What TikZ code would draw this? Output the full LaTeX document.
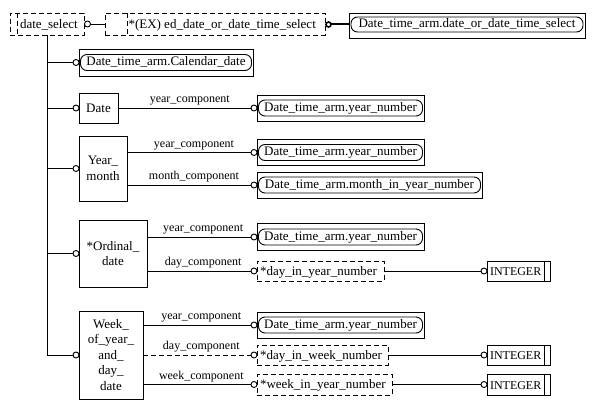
\documentclass[tikz,border=0pt]{standalone}
\usepackage{fontspec}
\setmainfont{Liberation Serif}
\newcommand\bxf{\fontsize{13}{15.5}\selectfont}
\newcommand\lbf{\fontsize{12}{14}\selectfont}
\newcommand\rbox[6]{%
  \node[ebox,minimum width=#4pt,minimum height=#5pt] (#1) at (#2,#3) {};
  \node[rin,minimum width=#4pt-3pt,minimum height=16pt] (#1i) at (#1.center) {#6};}
\begin{document}
\begin{tikzpicture}[x=1pt,y=-1pt,
  every node/.style={inner sep=0pt,outer sep=0pt},
  ln/.style={line width=0.9pt},
  dsh/.style={line width=0.9pt,dash pattern=on 5pt off 3pt},
  ebox/.style={draw,line width=0.9pt,anchor=north west,font=\bxf,align=center},
  sbox/.style={ebox,dash pattern=on 5pt off 3pt},
  rin/.style={draw,line width=0.9pt,rounded corners=6.5pt,font=\bxf,text height=9pt,text depth=2.5pt},
  txt/.style={font=\bxf,anchor=base west},
  ity/.style={font=\lbf,anchor=base west},
  lbl/.style={font=\lbf,anchor=base,yshift=5.5pt},
  circ/.style={draw,circle,fill=white,line width=0.9pt,minimum size=6pt},
]
\useasboundingbox (0,0) rectangle (593,409);

% ---- top row
\node[sbox,minimum width=74pt,minimum height=22pt] (ds) at (10,13) {};
\draw[dsh] ([xshift=7pt]ds.north west) -- ([xshift=7pt]ds.south west);
\node[txt] (dst) at (20,28.3) {date\_select};

\node[sbox,minimum width=220pt,minimum height=22pt] (ex) at (105,13) {};
\draw[dsh] ([xshift=22pt]ex.north west) -- ([xshift=22pt]ex.south west);
\node[txt] (ext) at (128.5,28.3) {*(EX) ed\_date\_or\_date\_time\_select};

\node[circ] (c0) at (87.5,24) {};
\draw[ln] (c0.east) -- (c0.east -| ex.west);

\node[ebox,minimum width=236pt,minimum height=25pt] (dts) at (349,13) {};
\node[rin,minimum width=232pt,minimum height=15pt] (dtsi) at (467,24.5) {Date\_time\_arm.date\_or\_date\_time\_select};
\node[circ,line width=1.6pt,minimum size=5pt] (cb) at (328.5,24.5) {};
\draw[line width=2pt] (cb.east) -- (cb.east -| dts.west);

% ---- entities
\rbox{cal}{79}{49}{174}{27}{Date\_time\_arm.Calendar\_date}
\node[ebox,minimum width=39pt,minimum height=30pt] (dat) at (79,93) {Date};
\node[ebox,minimum width=48pt,minimum height=65pt] (ym) at (79,136) {Year\_\\month};
\node[ebox,minimum width=68pt,minimum height=67pt] (ord) at (79,220) {*Ordinal\_\\date};
\node[ebox,minimum width=64pt,minimum height=88pt] (wk) at (79,311) {Week\_\\of\_year\_\\and\_\\day\_\\date};

% ---- trunk circles
\node[circ] (cc) at (76,62.5) {};
\node[circ] (cd) at (76,108) {};
\node[circ] (cy) at (76,168.5) {};
\node[circ] (co) at (76,253.5) {};
\node[circ] (cw) at (76,355) {};
\draw[ln] (ds.south) |- (cw.west);
\draw[ln] (cc -| ds.south) -- (cc.west);
\draw[ln] (cd -| ds.south) -- (cd.west);
\draw[ln] (cy -| ds.south) -- (cy.west);
\draw[ln] (co -| ds.south) -- (co.west);

% ---- referenced boxes
\rbox{yn1}{257}{95}{167}{26}{Date\_time\_arm.year\_number}
\rbox{yn2}{257}{139.5}{167}{26}{Date\_time\_arm.year\_number}
\rbox{mn}{257}{172}{225}{26}{Date\_time\_arm.month\_in\_year\_number}
\rbox{yn3}{257}{223.5}{167}{27}{Date\_time\_arm.year\_number}
\rbox{yn4}{257}{312}{167}{26}{Date\_time\_arm.year\_number}

\node[sbox,minimum width=127pt,minimum height=20pt] (diy) at (257,261) {};
\node[txt] (diyt) at (260,275) {*day\_in\_year\_number};
\node[sbox,minimum width=131pt,minimum height=20pt] (diw) at (257,345) {};
\node[txt] (diwt) at (260,359) {*day\_in\_week\_number};
\node[sbox,minimum width=135pt,minimum height=20.5pt] (wiy) at (257,374.5) {};
\node[txt] (wiyt) at (260,388.5) {*week\_in\_year\_number};

\node[ebox,minimum width=63pt,minimum height=20pt] (in1) at (487,261) {};
\draw[ln] ([xshift=-6pt]in1.north east) -- ([xshift=-6pt]in1.south east);
\node[ity] (in1t) at (490,275.5) {INTEGER};
\node[ebox,minimum width=63pt,minimum height=20pt] (in2) at (487,345) {};
\draw[ln] ([xshift=-6pt]in2.north east) -- ([xshift=-6pt]in2.south east);
\node[ity] (in2t) at (490,359.5) {INTEGER};
\node[ebox,minimum width=63pt,minimum height=20.5pt] (in3) at (487,374.5) {};
\draw[ln] ([xshift=-6pt]in3.north east) -- ([xshift=-6pt]in3.south east);
\node[ity] (in3t) at (490,389) {INTEGER};

% ---- attribute circles
\node[circ] (d1) at (254,108) {};
\node[circ] (m1) at (254,152.5) {};
\node[circ] (m2) at (254,185) {};
\node[circ] (o1) at (254,237) {};
\node[circ] (o2) at (254,271) {};
\node[circ] (w1) at (254,325) {};
\node[circ] (w2) at (254,355) {};
\node[circ] (w3) at (254,384.5) {};
\node[circ] (i1) at (484,271) {};
\node[circ] (i2) at (484,355) {};
\node[circ] (i3) at (484,384.5) {};

\draw[ln] (d1 -| dat.east) -- node[lbl,pos=0.54] (l1) {year\_component} (d1.west);
\draw[ln] (m1 -| ym.east) -- node[lbl,pos=0.54] (l2) {year\_component} (m1.west);
\draw[ln] (m2 -| ym.east) -- node[lbl,pos=0.54] (l3) {month\_component} (m2.west);
\draw[ln] (o1 -| ord.east) -- node[lbl,pos=0.54] (l4) {year\_component} (o1.west);
\draw[ln] (o2 -| ord.east) -- node[lbl,pos=0.54] (l5) {day\_component} (o2.west);
\draw[ln] (w1 -| wk.east) -- node[lbl,pos=0.54] (l6) {year\_component} (w1.west);
\draw[dsh] (w2 -| wk.east) -- node[lbl,pos=0.54] (l7) {day\_component} (w2.west);
\draw[ln] (w3 -| wk.east) -- node[lbl,pos=0.54] (l8) {week\_component} (w3.west);

\draw[ln] (i1 -| diy.east) -- (i1.west);
\draw[ln] (i2 -| diw.east) -- (i2.west);
\draw[ln] (i3 -| wiy.east) -- (i3.west);
\end{tikzpicture}
\end{document}
